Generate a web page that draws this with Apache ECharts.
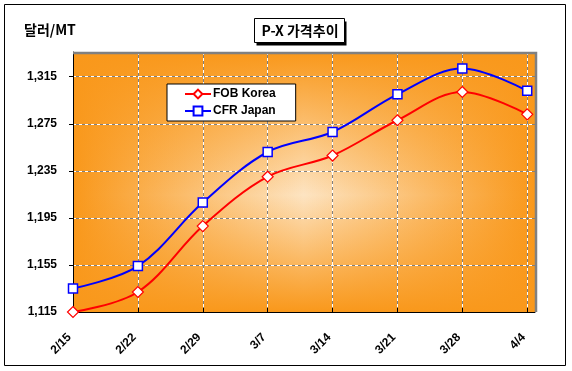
<!DOCTYPE html>
<html>
<head>
<meta charset="utf-8">
<script src="https://cdn.jsdelivr.net/npm/echarts@6/dist/echarts.min.js"></script>
<style>
html,body{margin:0;padding:0;background:#fff;}
#c{width:572px;height:371px;}
</style>
</head>
<body>
<div id="c"></div>
<script>
var dates = ['2/15','2/22','2/29','3/7','3/14','3/21','3/28','4/4'];
var fobKorea = [1115, 1132, 1188, 1230, 1248, 1278, 1302, 1283];
var cfrJapan = [1135, 1154, 1208, 1251, 1268, 1300, 1322, 1303];
var yMin = 1115, yMax = 1336, yStep = 40;
var xMax = 7.12;

var F = '"Liberation Sans", Arial, sans-serif';
var K = '"Noto Sans CJK KR", "Liberation Sans", sans-serif';
function pairs(a){ return a.map(function(v,i){ return [i, v]; }); }
function comma(v){ return String(Math.round(v)).replace(/\B(?=(\d{3})+(?!\d))/g, ','); }

var G = {left:73, top:52, width:462, height:260};
var orange = '#f9981b';

var chart = echarts.init(document.getElementById('c'), null, {renderer:'canvas'});
chart.setOption({
  animation:false,
  backgroundColor:'#fff',
  grid:{left:G.left, top:G.top, width:G.width, height:G.height, show:false},
  graphic:[
    {type:'rect', z:0, shape:{x:4.5,y:4.5,width:561,height:361}, style:{fill:'#fff', stroke:'#000', lineWidth:1}},
    {type:'rect', z:1, shape:{x:G.left,y:G.top,width:G.width,height:G.height},
      style:{fill:new echarts.graphic.LinearGradient(0,0,1,0,[
        {offset:0,color:orange},{offset:0.5,color:'#fde4c2'},{offset:1,color:orange}])}},
    {type:'rect', z:2, shape:{x:G.left,y:G.top,width:G.width,height:G.height},
      style:{fill:new echarts.graphic.LinearGradient(0,0,0,1,[
        {offset:0,color:'rgba(249,152,27,1)'},{offset:0.55,color:'rgba(249,152,27,0)'},{offset:1,color:'rgba(249,152,27,1)'}])}},
    {type:'polyline', z:8, shape:{points:[[G.left, G.top+1],[G.left+G.width+1, G.top+1],[G.left+G.width+1, G.top+G.height]]},
      style:{stroke:'#808080', lineWidth:2.5, fill:null}},
    {type:'text', z:20, left:24, top:23, style:{text:'달러/MT', font:'bold 14px '+K, fill:'#000'}},
    {type:'rect', z:19, shape:{x:256.5,y:21.5,width:90,height:24}, style:{fill:'#000'}},
    {type:'rect', z:20, shape:{x:254.5,y:18.5,width:90,height:24}, style:{fill:'#fff', stroke:'#000', lineWidth:1}},
    {type:'text', z:21, x:300, y:31, style:{text:'P-X 가격추이', font:'bold 14px '+K, fill:'#000', align:'center', verticalAlign:'middle'}}
  ],
  legend:{
    left:167, top:84, orient:'vertical',
    backgroundColor:'#fff', borderColor:'#000', borderWidth:1, borderRadius:0,
    padding:[4,20,4,17], itemGap:5, itemWidth:26, itemHeight:11,
    textStyle:{fontFamily:F, fontWeight:'bold', fontSize:12, color:'#000', padding:[0,0,0,-3]},
    z:30,
    data:['FOB Korea','CFR Japan']
  },
  xAxis:[
    {type:'value', min:0, max:xMax, interval:1, z:5,
      axisLine:{show:true, onZero:false, lineStyle:{color:'#000', width:1}},
      axisTick:{show:true, inside:true, length:4, lineStyle:{color:'#000'}},
      axisLabel:{show:true, rotate:45, margin:20, padding:[0,5,0,0], showMaxLabel:false, fontFamily:F, fontWeight:'bold', fontSize:12, color:'#000',
        formatter:function(v){ return dates[Math.round(v)] || ''; }},
      splitLine:{show:true, lineStyle:{color:'#ffffff', type:[3,3], width:1}}},
    {type:'value', min:0, max:xMax, interval:1, position:'top', z:4,
      axisLine:{show:false}, axisTick:{show:false}, axisLabel:{show:false},
      splitLine:{show:true, lineStyle:{color:'#808080', type:[3,3], dashOffset:3, width:1}}}
  ],
  yAxis:[
    {type:'value', min:yMin, max:yMax, interval:yStep, z:5,
      axisLine:{show:true, lineStyle:{color:'#000', width:1}},
      axisTick:{show:true, length:4, lineStyle:{color:'#000'}},
      axisLabel:{show:true, margin:16, showMaxLabel:false, fontFamily:F, fontWeight:'bold', fontSize:12, color:'#000',
        formatter:function(v){ return comma(v); }},
      splitLine:{show:true, lineStyle:{color:'#ffffff', type:[3,3], width:1}}},
    {type:'value', min:yMin, max:yMax, interval:yStep, position:'right', z:4,
      axisLine:{show:false}, axisTick:{show:false}, axisLabel:{show:false},
      splitLine:{show:true, lineStyle:{color:'#808080', type:[3,3], dashOffset:3, width:1}}}
  ],
  series:[
    {name:'FOB Korea', type:'line', z:10, smooth:0.35, data:pairs(fobKorea),
      symbol:'diamond', symbolSize:11, showAllSymbol:true, clip:false,
      lineStyle:{color:'#ff0000', width:2},
      itemStyle:{color:'#fff', borderColor:'#ff0000', borderWidth:1.2}},
    {name:'CFR Japan', type:'line', z:11, smooth:0.35, data:pairs(cfrJapan),
      symbol:'rect', symbolSize:9, showAllSymbol:true, clip:false,
      lineStyle:{color:'#0000ff', width:2},
      itemStyle:{color:'#fff', borderColor:'#0000ff', borderWidth:1.5}}
  ]
});
</script>
</body>
</html>
